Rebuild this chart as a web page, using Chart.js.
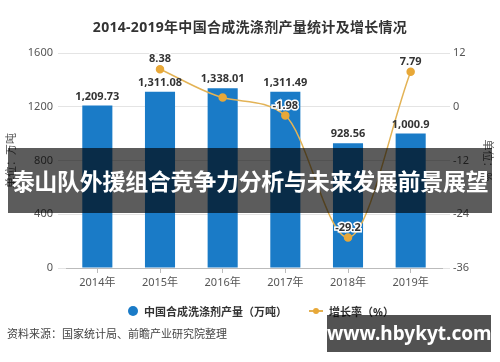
<!DOCTYPE html>
<html>
<head>
<meta charset="utf-8">
<script src="https://cdn.jsdelivr.net/npm/chart.js@4/dist/chart.umd.min.js"></script>
<style>
    body { margin: 0; background: #fff; font-family: 'Noto Sans', 'Noto Sans CJK SC', sans-serif; }
    #wrap { position: relative; width: 500px; height: 362px; overflow: hidden; }
    #chart { position: absolute; left: 0; top: 0; }
    .title { position: absolute; top: 16px; left: 0; width: 500px; text-align: center; font-size: 14px; font-weight: bold; color: #333; letter-spacing: 0.3px; }
    .legend { position: absolute; top: 302px; left: 128px; font-size: 11px; color: #333; font-weight: bold; white-space: nowrap; }
    .legend span { display: inline-block; vertical-align: middle; }
    .dot { width: 10px; height: 10px; border-radius: 50%; background: #1a7bc7; margin-right: 6px; }
    .lmark { position: relative; width: 14px; height: 2px; background: #e3b052; margin: 0 6px 0 22px; }
    .lmark:after { content: ''; position: absolute; left: 4px; top: -2px; width: 6px; height: 6px; border-radius: 50%; background: #e8a838; }
    .source { position: absolute; top: 325px; left: 7px; font-size: 11px; color: #444; }
    .band { position: absolute; left: 8px; top: 148px; width: 484px; height: 65px; background: rgba(0, 0, 0, 0.64); color: #fff;
        font-family: 'Noto Sans CJK SC', sans-serif; font-weight: bold; font-size: 23px; line-height: 65px; text-align: center; white-space: nowrap; letter-spacing: -0.3px; }
    .mark { position: absolute; left: 327px; top: 315px; width: 164px; height: 37px; background: rgba(0, 0, 0, 0.68); color: #fff;
        font-weight: bold; font-size: 19px; line-height: 37px; text-align: center; }
</style>
</head>
<body>
<div id="wrap">
    <canvas id="chart" width="500" height="362"></canvas>
    <div class="title">2014-2019年中国合成洗涤剂产量统计及增长情况</div>
    <div class="legend"><span class="dot"></span><span>中国合成洗涤剂产量（万吨）</span><span class="lmark"></span><span>增长率（%）</span></div>
    <div class="source">资料来源：国家统计局、前瞻产业研究院整理</div>
    <div class="band">泰山队外援组合竞争力分析与未来发展前景展望</div>
    <div class="mark">www.hbykyt.com</div>
</div>
<script>
const years = ['2014年', '2015年', '2016年', '2017年', '2018年', '2019年'];
const output = [1209.73, 1311.08, 1338.01, 1311.49, 928.56, 1000.9];
const growth = [null, 8.38, 2.05, -1.98, -29.2, 7.79];
const showRateLabel = [false, true, false, true, true, true];
const leftTicks = [0, 400, 800, 1200, 1600];
const rightTicks = [-36, -24, -12, 0, 12];

const fontFamily = "'Noto Sans', 'Noto Sans CJK SC', sans-serif";

// values above bars and line points
const valueLabels = {
    id: 'valueLabels',
    afterDatasetsDraw(chart) {
        const ctx = chart.ctx;
        ctx.save();
        ctx.textAlign = 'center';
        ctx.textBaseline = 'middle';
        ctx.font = 'bold 11px ' + fontFamily;
        ctx.fillStyle = '#333';
        chart.getDatasetMeta(1).data.forEach((bar, i) => {
            ctx.fillText(output[i].toLocaleString('en-US'), bar.x, bar.y - 9);
        });
        ctx.lineWidth = 3;
        ctx.strokeStyle = '#fff';
        chart.getDatasetMeta(0).data.forEach((pt, i) => {
            if (!showRateLabel[i] || growth[i] == null) return;
            ctx.strokeText(String(growth[i]), pt.x, pt.y - 10);
            ctx.fillText(String(growth[i]), pt.x, pt.y - 10);
        });
        ctx.restore();
    }
};

new Chart(document.getElementById('chart'), {
    data: {
        labels: years,
        datasets: [{
            type: 'line',
            label: '增长率（%）',
            data: growth,
            yAxisID: 'y1',
            borderColor: '#e3b356',
            borderWidth: 1.5,
            pointBackgroundColor: '#e8a838',
            pointBorderColor: '#e8a838',
            pointRadius: 3.5,
            cubicInterpolationMode: 'monotone',
            order: 0
        }, {
            type: 'bar',
            label: '中国合成洗涤剂产量（万吨）',
            data: output,
            yAxisID: 'y',
            backgroundColor: '#1a7bc7',
            barPercentage: 0.48,
            categoryPercentage: 1,
            order: 1
        }]
    },
    options: {
        responsive: false,
        animation: false,
        layout: { padding: { top: 53, bottom: 64, left: 0, right: 0 } },
        plugins: { legend: { display: false }, tooltip: { enabled: false } },
        scales: {
            x: {
                grid: { offset: false, drawOnChartArea: false, tickLength: 5, color: '#bbb' },
                border: { color: '#bbb' },
                ticks: { color: '#555', font: { size: 11, family: fontFamily }, padding: 3 },
                afterFit(s) { s.height = 30; }
            },
            y: {
                position: 'left',
                min: 0, max: 1600,
                afterBuildTicks(s) { s.ticks = leftTicks.map(v => ({ value: v })); },
                grid: { color: '#e4e4e4', tickLength: 8 },
                border: { display: false },
                ticks: { color: '#555', font: { size: 11, family: fontFamily }, padding: 5, callback: v => String(v) },
                title: { display: true, text: '单位：万吨', color: '#555', font: { size: 11, family: fontFamily }, padding: 5 },
                afterFit(s) { s.width = 66; }
            },
            y1: {
                position: 'right',
                min: -36, max: 12,
                afterBuildTicks(s) { s.ticks = rightTicks.map(v => ({ value: v })); },
                grid: { drawOnChartArea: false, color: '#e4e4e4', tickLength: 8 },
                border: { display: false },
                ticks: { color: '#555', font: { size: 11, family: fontFamily }, padding: 3, callback: v => String(v) },
                title: { display: true, text: '单位：%', color: '#555', font: { size: 11, family: fontFamily }, padding: 6 },
                afterFit(s) { s.width = 58; }
            }
        }
    },
    plugins: [valueLabels]
});
</script>
</body>
</html>
